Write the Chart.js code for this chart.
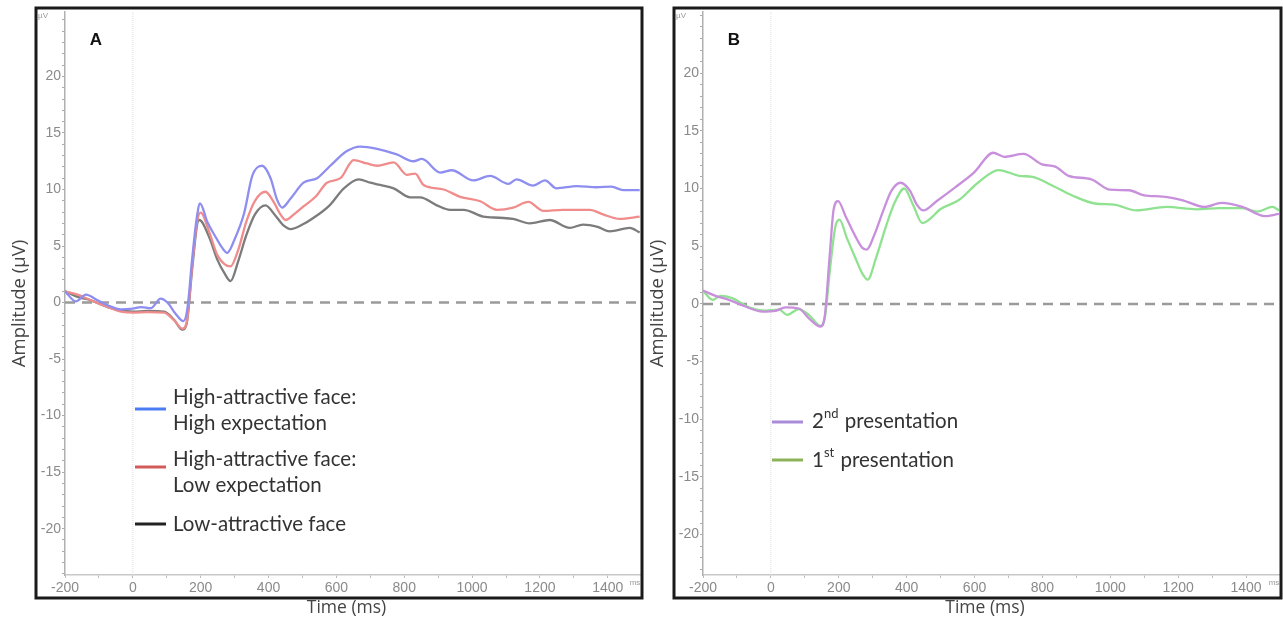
<!DOCTYPE html>
<html><head><meta charset="utf-8">
<script src="https://cdn.jsdelivr.net/npm/chart.js@4.4.1/dist/chart.umd.min.js"></script>
<style>
html,body{margin:0;padding:0;background:#fff;width:1283px;height:623px;overflow:hidden;}
#cA{position:absolute;left:0;top:0;}
#cB{position:absolute;left:650px;top:0;}
</style></head><body>
<canvas id="cA" width="650" height="623"></canvas>
<canvas id="cB" width="633" height="623"></canvas>
<script>
// ---------- DATA (time in ms, amplitude in µV) ----------
const xTicks = [-200,-100,0,100,200,300,400,500,600,700,800,900,1000,1100,1200,1300,1400];
const yTickLabels = [-20,-15,-10,-5,0,5,10,15,20];

// Panel A
const hiExpT = [-200,-168,-138,-104,-74,-35,0,24,53,82,102,126,149,161,175,188,198,220,244,262,278,300,328,352,381,406,425,440,465,503,543,582,631,670,720,778,827,852,906,940,1004,1053,1107,1131,1180,1215,1249,1308,1367,1411,1445,1494];
const hiExpV = [1.0,0.1,0.7,0.2,-0.24,-0.6,-0.53,-0.4,-0.5,0.35,0.0,-1.0,-1.65,-0.5,3.9,7.4,8.76,7.1,5.8,4.9,4.4,5.6,7.9,11.2,12.1,11.0,9.1,8.4,9.2,10.6,11.0,12.1,13.4,13.8,13.6,13.1,12.5,12.7,11.5,11.7,10.8,11.2,10.5,10.9,10.35,10.8,10.1,10.3,10.2,10.25,9.95,9.95];

const loExpT = [-200,-163,-124,-74,-35,0,43,92,121,146,159,175,190,200,225,249,270,288,310,335,360,391,415,435,450,475,503,540,572,612,651,690,720,769,808,832,857,916,965,1024,1073,1121,1166,1210,1268,1347,1386,1435,1494];
const loExpV = [1.0,0.7,0.2,-0.4,-0.8,-0.9,-0.85,-0.9,-1.56,-2.3,-1.7,3.3,7.3,7.96,6.25,4.2,3.4,3.2,4.6,7.2,9.0,9.8,8.9,7.8,7.3,7.8,8.5,9.4,10.6,11.0,12.6,12.3,12.1,12.4,11.3,11.4,10.4,10.0,9.35,8.96,8.2,8.4,8.9,8.1,8.2,8.2,7.8,7.4,7.6];

const loAttT = [-200,-163,-124,-74,-35,0,43,92,121,146,159,175,190,196,225,249,270,288,310,335,360,391,420,445,465,500,533,580,622,666,700,729,769,818,847,896,935,975,1033,1080,1121,1170,1229,1288,1327,1370,1406,1465,1494];
const loAttV = [1.0,0.5,0.2,-0.4,-0.7,-0.8,-0.75,-0.8,-1.5,-2.4,-1.8,3.0,7.0,7.3,5.8,3.8,2.6,1.9,3.6,6.0,7.8,8.6,7.7,6.8,6.5,6.9,7.5,8.6,10.1,10.9,10.6,10.4,10.1,9.3,9.3,8.6,8.2,8.2,7.6,7.5,7.4,7.0,7.3,6.6,6.9,6.7,6.3,6.6,6.2];

// Panel B
const secondT = [-200,-163,-124,-75,-25,14,43,82,112,146,159,173,185,198,220,249,268,282,305,330,355,382,410,430,449,488,543,599,655,688,744,799,838,877,944,999,1055,1100,1155,1211,1278,1328,1389,1456,1497];
const secondV = [1.16,0.7,0.35,-0.23,-0.67,-0.6,-0.3,-0.4,-1.25,-1.97,-1.0,4.1,8.2,8.9,7.6,5.85,4.9,4.7,6.0,8.0,9.8,10.5,9.8,8.6,8.1,8.9,10.1,11.4,13.1,12.75,13.0,12.1,11.9,11.1,10.8,9.9,9.85,9.4,9.3,9.0,8.4,8.75,8.4,7.6,7.8];

const firstT = [-200,-172,-148,-114,-65,-16,24,48,82,112,146,159,175,190,202,224,249,270,285,310,340,365,393,420,446,470,499,554,610,671,732,771,833,888,955,1011,1077,1166,1255,1322,1389,1433,1478,1497];
const firstV = [1.16,0.35,0.7,0.5,-0.3,-0.58,-0.5,-0.95,-0.46,-0.95,-1.9,-1.2,3.25,6.7,7.3,5.7,3.97,2.6,2.1,4.0,6.8,8.8,10.0,8.5,7.0,7.4,8.2,9.0,10.5,11.6,11.1,11.0,10.2,9.4,8.7,8.6,8.1,8.4,8.2,8.3,8.3,8.0,8.4,8.1];

const labelsA = ['High-attractive face:\nHigh expectation','High-attractive face:\nLow expectation','Low-attractive face'];
const labelsB = ['2^nd presentation','1^st presentation'];

// ---------- STYLE / LAYOUT ----------
const FONT = "'Liberation Sans', Arial, sans-serif";
const TFONT = "'Open Sans', sans-serif";
const LFONT = "Lato, 'Open Sans', sans-serif";

function pts(T, V){ return T.map((t,i)=>({x:t, y:V[i]})); }

const decor = {
  id:'decor',
  afterDraw(chart, args, o){
    const ctx = chart.ctx, a = chart.chartArea;
    ctx.save();
    // frame
    ctx.strokeStyle = '#1a1a1a'; ctx.lineWidth = 3;
    ctx.strokeRect(a.left-29, a.top-4, a.right-a.left+31, a.bottom-a.top+27);
    // axis titles
    ctx.fillStyle = '#444';
    ctx.textAlign = 'center'; ctx.textBaseline = 'middle';
    ctx.font = '17.5px ' + TFONT;
    ctx.fillText('Time (ms)', (a.left+a.right)/2 - 6, a.bottom + 33);
    ctx.save();
    ctx.translate(a.left - 45, (a.top+a.bottom)/2 + 10);
    ctx.rotate(-Math.PI/2);
    ctx.font = '18.5px ' + TFONT;
    ctx.fillText('Amplitude (µV)', 0, 0);
    ctx.restore();
    // unit labels
    ctx.fillStyle = '#999';
    ctx.font = '8px ' + FONT;
    ctx.fillText('µV', a.left - 22, a.top + 4);
    ctx.fillText('ms', a.right - 5, a.bottom + 8);
    // panel letter
    ctx.fillStyle = '#111';
    ctx.font = 'bold 17px ' + FONT;
    ctx.fillText(o.letter, a.left + 31, a.top + 28);
    // legend
    ctx.textAlign = 'left';
    o.legend.forEach((e, i) => {
      ctx.strokeStyle = e.color; ctx.lineWidth = 3;
      ctx.beginPath(); ctx.moveTo(o.lx, e.sy); ctx.lineTo(o.lx + o.lw, e.sy); ctx.stroke();
      ctx.fillStyle = '#333';
      e.text.split('\n').forEach((line, j) => {
        const y = e.ty + j * o.lineH;
        let x = o.tx;
        line.split(/\^(\w+)/).forEach((seg, k) => {
          if (k % 2 === 1) {
            ctx.font = '13px ' + LFONT;
            ctx.fillText(seg, x, y - 7);
          } else {
            ctx.font = '20.5px ' + LFONT;
            ctx.fillText(seg, x, y);
          }
          x += ctx.measureText(seg).width + (k % 2 === 1 ? 1 : 0);
        });
      });
    });
    ctx.restore();
  }
};

function makeChart(id, series, cfg){
  const datasets = series.map(s => ({
    data: s.data, borderColor: s.color, borderWidth: 2.3, pointRadius: 0,
    cubicInterpolationMode: 'monotone', fill: false, order: 1
  }));
  datasets.push({ data: [{x:-200,y:0},{x:cfg.xMax,y:0}], borderColor:'#9a9a9a', borderWidth:2.5,
    borderDash:[10,7], pointRadius:0, order:2 });
  datasets.push({ data: [{x:0,y:cfg.yMin},{x:0,y:cfg.yMax}], borderColor:'#dcdcdc', borderWidth:1,
    borderDash:[1,1], pointRadius:0, order:3 });
  return new Chart(document.getElementById(id), {
    type: 'line',
    data: { datasets },
    plugins: [decor],
    options: {
      responsive: false, animation: false, devicePixelRatio: 1,
      layout: { padding: { left: 0, top: 12, right: cfg.padR, bottom: 0 } },
      plugins: { legend: { display: false }, tooltip: { enabled: false },
        decor: { letter: cfg.letter, legend: cfg.legend, lx: cfg.lx, lw: cfg.lw, tx: cfg.tx, lineH: 26 } },
      scales: {
        x: {
          type: 'linear', min: -200, max: cfg.xMax,
          afterBuildTicks: s => { s.ticks = xTicks.map(v => ({value: v})); },
          afterFit: s => { s.height = 48; },
          ticks: { autoSkip: false, maxRotation: 0, color: '#8a8a8a', padding: 2,
            font: { family: FONT, size: 14 },
            callback: v => (v % 200 === 0 ? String(v) : '') },
          grid: { drawOnChartArea: false, tickLength: 3, color: '#bbb' },
          border: { display: true, color: '#c8c8c8', width: 1.5 }
        },
        y: {
          type: 'linear', min: cfg.yMin, max: cfg.yMax,
          afterBuildTicks: s => {
            const t = [];
            for (let v = Math.ceil(cfg.yMin); v <= Math.floor(cfg.yMax); v++) t.push({value: v});
            s.ticks = t;
          },
          afterFit: s => { s.width = cfg.yW; },
          ticks: { autoSkip: false, color: '#8a8a8a', padding: 1,
            font: { family: FONT, size: 14 },
            callback: v => (yTickLabels.includes(v) ? String(v) : '') },
          grid: { drawOnChartArea: false, tickLength: 3, color: '#aaa' },
          border: { display: true, color: '#b0b0b0', width: 1.5, dash: [2,2] }
        }
      }
    }
  });
}

makeChart('cA', [
  { data: pts(hiExpT, hiExpV), color: '#8e8ef0' },
  { data: pts(loExpT, loExpV), color: '#f08c8c' },
  { data: pts(loAttT, loAttV), color: '#7c7c7c' }
], {
  letter: 'A', xMax: 1495, yMin: -24.1, yMax: 25.7, yW: 65, padR: 10,
  lx: 135, lw: 31, tx: 173,
  legend: [
    { text: labelsA[0], color: '#4a7cf5', sy: 409, ty: 397 },
    { text: labelsA[1], color: '#d35a58', sy: 467, ty: 459 },
    { text: labelsA[2], color: '#222222', sy: 524, ty: 524 }
  ]
});

makeChart('cB', [
  { data: pts(secondT, secondV), color: '#c88fdc' },
  { data: pts(firstT, firstV), color: '#8fe28f' }
], {
  letter: 'B', xMax: 1497, yMin: -23.5, yMax: 25.3, yW: 53, padR: 4,
  lx: 122, lw: 31, tx: 162,
  legend: [
    { text: labelsB[0], color: '#a98bd8', sy: 422, ty: 421 },
    { text: labelsB[1], color: '#8db35a', sy: 460, ty: 460 }
  ]
});
</script>
</body></html>
